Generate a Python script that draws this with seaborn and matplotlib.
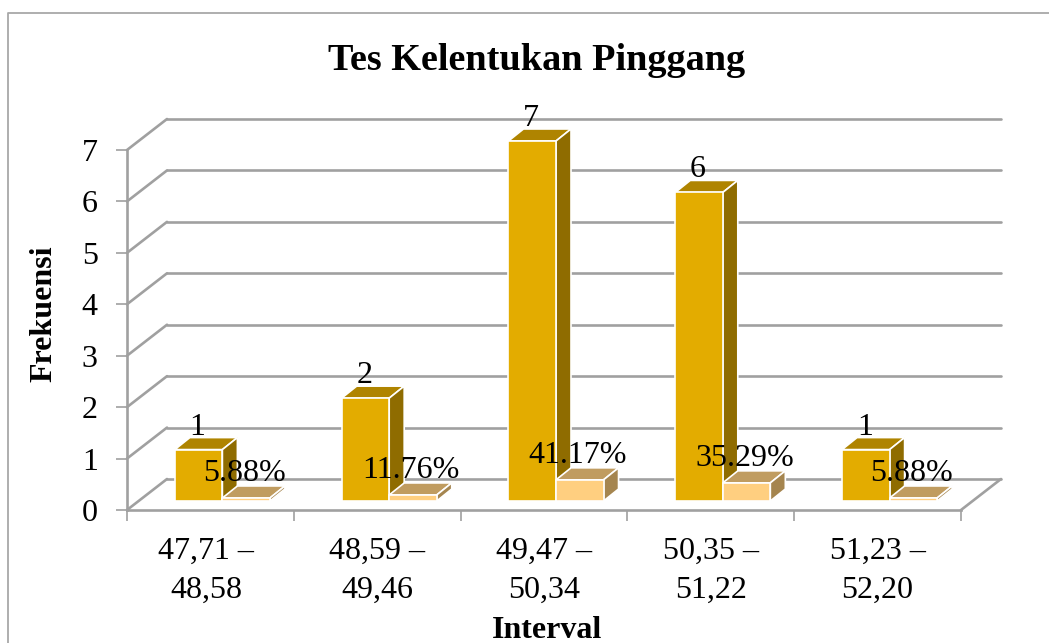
import matplotlib
matplotlib.use("Agg")
import matplotlib.pyplot as plt
from matplotlib.patches import Polygon
from matplotlib.transforms import ScaledTranslation
from matplotlib.lines import Line2D
import seaborn as sns
import pandas as pd

categories = ["47,71 –\n48,58", "48,59 –\n49,46", "49,47 –\n50,34", "50,35 –\n51,22", "51,23 –\n52,20"]
frekuensi = [1, 2, 7, 6, 1]
persen = [0.0588, 0.1176, 0.4117, 0.3529, 0.0588]
persen_labels = ["5.88%", "11.76%", "41.17%", "35.29%", "5.88%"]
y_ticks = [0, 1, 2, 3, 4, 5, 6, 7]
title = "Tes Kelentukan Pinggang"
xlabel = "Interval"
ylabel = "Frekuensi"

W, H, DPI = 1049, 643, 100
sns.set_theme(style="white")
plt.rcParams["font.family"] = ["Liberation Serif", "DejaVu Serif"]

fig = plt.figure(figsize=(W / DPI, H / DPI), dpi=DPI, facecolor="white")
L, R, T, B = 127, 961, 150, 510
ax = fig.add_axes([L / W, 1 - B / H, (R - L) / W, (B - T) / H])

df = pd.DataFrame({
    "cat": categories * 2,
    "val": frekuensi + persen,
    "ser": ["Frekuensi"] * 5 + ["Persen"] * 5,
})
FRONT = {"Frekuensi": "#E3AC00", "Persen": "#FFCF80"}
TOP = {"Frekuensi": "#AF8400", "Persen": "#C09C60"}
SIDE = {"Frekuensi": "#8F6C00", "Persen": "#A5854F"}
sns.barplot(data=df, x="cat", y="val", hue="ser", palette=FRONT, saturation=1, width=0.57, gap=0,
            dodge=True, legend=False, ax=ax, edgecolor="white", linewidth=1.2, zorder=5)
ax.set_xlim(-0.5, 4.5)
ax.set_ylim(0, 7)


def px(dx, dy):
    """Screen offset in pixels (dy upward) on top of the data transform."""
    return ax.transData + ScaledTranslation(dx / DPI, dy / DPI, fig.dpi_scale_trans)


GRID = "#A0A0A0"
WALL_DX, WALL_DY = 40, 31
# back wall gridlines and their slanted links to the y axis
for v in y_ticks:
    ax.add_line(Line2D([-0.5, 4.5], [v, v], transform=px(WALL_DX, WALL_DY), color=GRID,
                       lw=1.9, clip_on=False, zorder=1))
    a = ax.transData.transform((-0.5, v))
    b = px(WALL_DX, WALL_DY).transform((-0.5, v))
    ax.add_line(Line2D([a[0], b[0]], [a[1], b[1]], transform=None, color=GRID, lw=1.9,
                       clip_on=False, zorder=1))
# floor right edge
a = ax.transData.transform((4.5, 0))
b = px(WALL_DX, WALL_DY).transform((4.5, 0))
ax.add_line(Line2D([a[0], b[0]], [a[1], b[1]], transform=None, color=GRID, lw=1.9,
                   clip_on=False, zorder=1))

# bars moved to the middle of the depth, with extruded top and side
BAR_DX, BAR_DY = 12, 9
DEPTH_DX, DEPTH_DY = 15, 12
sers = ["Frekuensi"] * 5 + ["Persen"] * 5
bars = list(ax.patches)
off = px(BAR_DX, BAR_DY)
for p, s, in zip(bars, sers):
    x0, y0, w, h = p.get_x(), p.get_y(), p.get_width(), p.get_height()
    p.set_transform(off)
    p.set_clip_on(False)
    a = off.transform((x0, y0))
    c = off.transform((x0 + w, y0 + h))
    xl, yb, xr, yt = a[0], a[1], c[0], c[1]
    ax.add_patch(Polygon([(xl, yt), (xr, yt), (xr + DEPTH_DX, yt + DEPTH_DY), (xl + DEPTH_DX, yt + DEPTH_DY)],
                         transform=None, facecolor=TOP[s], edgecolor="white", lw=1.2, clip_on=False, zorder=4))
    ax.add_patch(Polygon([(xr, yb), (xr, yt), (xr + DEPTH_DX, yt + DEPTH_DY), (xr + DEPTH_DX, yb + DEPTH_DY)],
                         transform=None, facecolor=SIDE[s], edgecolor="white", lw=1.2, clip_on=False, zorder=4))

# data labels
FS = 23
n = len(categories)
offs = 0.57 / 4
for i in range(n):
    ax.annotate(str(frekuensi[i]), (i - offs, frekuensi[i]), xycoords=px(BAR_DX, BAR_DY),
                xytext=(-1, 8), textcoords="offset pixels", ha="center", va="bottom",
                fontsize=FS, color="black", zorder=10, annotation_clip=False)
    ax.annotate(persen_labels[i], (i + offs, persen[i]), xycoords=px(BAR_DX, BAR_DY),
                xytext=(-2, 10), textcoords="offset pixels", ha="center", va="bottom",
                fontsize=FS, color="black", zorder=10, annotation_clip=False)

# axes furniture
sns.despine(ax=ax, top=True, right=True)
for k in ("left", "bottom"):
    ax.spines[k].set_color(GRID)
    ax.spines[k].set_linewidth(1.9)
ax.set_yticks(y_ticks)
ax.set_xticks([i - 0.5 for i in range(n + 1)], minor=True)
ax.set_xticks(range(n))
ax.set_xticklabels(categories, fontsize=FS, color="black", linespacing=1.48)
ax.tick_params(axis="x", which="major", length=0, pad=19)
ax.tick_params(axis="x", which="minor", length=8, width=1.2, color=GRID, bottom=True)
ax.tick_params(axis="y", which="major", length=8, width=1.2, color=GRID, left=True, labelsize=FS, pad=13, labelcolor="black")
first = ax.get_xticklabels()[0]
first.set_transform(first.get_transform() + ScaledTranslation(-4 / DPI, 0, fig.dpi_scale_trans))
ax.set_xlabel("")
ax.set_ylabel("")
fig.text(537 / W, 1 - 61 / H, title, ha="center", va="center", fontsize=27.5, fontweight="bold", color="black")
fig.text(547 / W, 1 - 630 / H, xlabel, ha="center", va="center", fontsize=23, fontweight="bold", color="black")
fig.text(44 / W, 1 - 314 / H, ylabel, ha="center", va="center", rotation=90, fontsize=23, fontweight="bold", color="black")

# chart-area frame
frame = "#A8A8A8"
fig.add_artist(Line2D([8 / W, 8 / W, 1, ], [0, 1 - 13 / H, 1 - 13 / H],
                      transform=fig.transFigure, color=frame, lw=1.3))
fig.savefig("out.png", dpi=DPI, facecolor="white")
